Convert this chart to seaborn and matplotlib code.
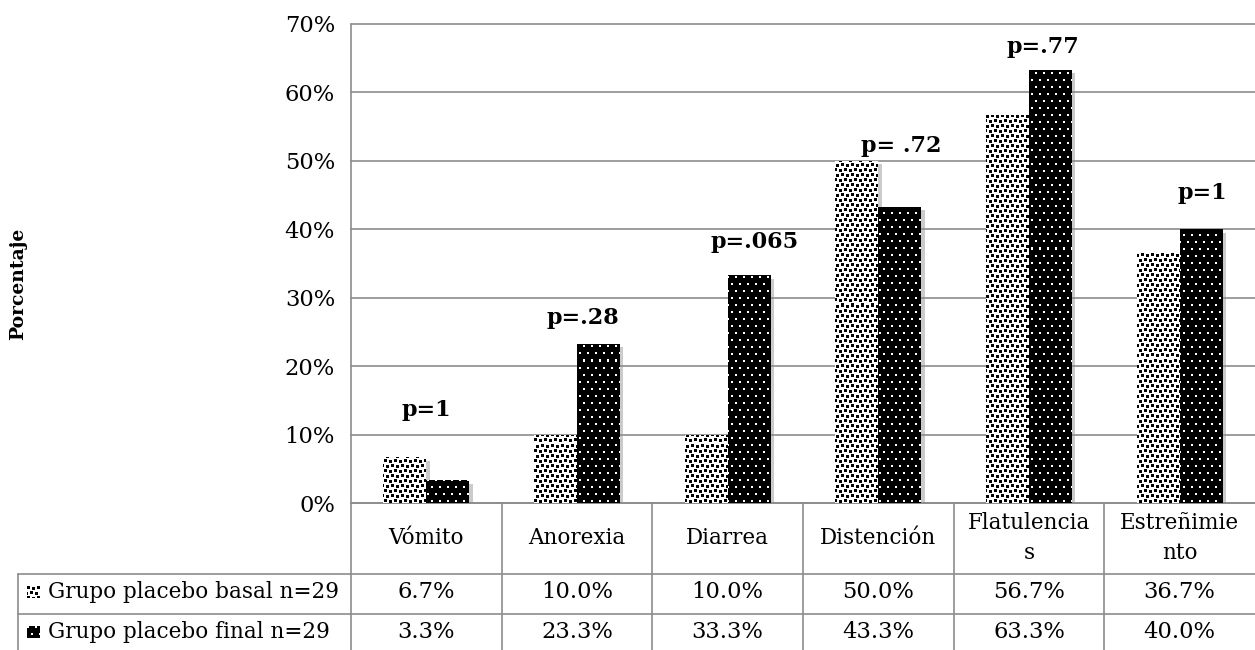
import numpy as np
import pandas as pd
import seaborn as sns
import matplotlib.pyplot as plt
from matplotlib import patheffects as pe
from matplotlib.lines import Line2D
from matplotlib.transforms import blended_transform_factory

# ---- data ----
sintomas = ["Vómito", "Anorexia", "Diarrea", "Distención", "Flatulencias", "Estreñimiento"]
etiquetas_tabla = ["Vómito", "Anorexia", "Diarrea", "Distención", "Flatulencia\ns", "Estreñimie\nnto"]
grupos = ["Grupo placebo basal n=29", "Grupo placebo final n=29"]
basal = [6.7, 10.0, 10.0, 50.0, 56.7, 36.7]
final = [3.3, 23.3, 33.3, 43.3, 63.3, 40.0]
p_valores = ["p=1", "p=.28", "p=.065", "p= .72", "p=.77", "p=1"]
y_ticks = [0, 10, 20, 30, 40, 50, 60, 70]

# ---- layout of the p-value annotations (category offset, height in %) ----
p_dx = [0.0, 0.04, 0.18, 0.15, 0.09, 0.15]
p_y = [13.6, 27.0, 38.1, 52.2, 66.6, 45.3]

sns.set_theme(style="white")
plt.rcParams["font.family"] = ["DejaVu Serif"]

FS = 15.5      # text in the table
FS_NUM = 16.3  # numbers (ticks and table values)
GRID = "#8c8c8c"
W_PX, H_PX = 1255, 650

fig = plt.figure(figsize=(W_PX / 100, H_PX / 100), dpi=100)
ax_left, ax_bottom, ax_w, ax_h = 351, 147, 904, 479
ax = fig.add_axes([ax_left / W_PX, ax_bottom / H_PX, ax_w / W_PX, ax_h / H_PX])

df = pd.DataFrame({
    "Síntoma": sintomas * 2,
    "Porcentaje": basal + final,
    "Grupo": [grupos[0]] * len(sintomas) + [grupos[1]] * len(sintomas),
})
sns.barplot(data=df, x="Síntoma", y="Porcentaje", hue="Grupo",
            palette=["white", "black"], width=0.57, saturation=1,
            linewidth=0, errorbar=None, legend=False, ax=ax, zorder=3)

ax.set_xlim(-0.5, 5.5)
ax.set_ylim(0, 70)


# ---- fill textures ----
def confetti(h, w):
    tile = np.ones((10, 10))
    for r, c in [(0, 0), (1, 5), (5, 3), (6, 8)]:
        for dr in range(3):
            for dc in range(3):
                tile[(r + dr) % 10, (c + dc) % 10] = 0
    return np.tile(tile, (h // 10 + 1, w // 10 + 1))[:h, :w]


def dotted(h, w):
    tile = np.zeros((14, 8))
    tile[0:2, 0:2] = 1
    tile[7:9, 4:6] = 1
    return np.tile(tile, (h // 14 + 1, w // 8 + 1))[:h, :w]


patterns = [confetti(ax_h, ax_w), dotted(ax_h, ax_w)]
for cont, pat in zip(ax.containers, patterns):
    for bar in cont:
        bar.set_path_effects([pe.SimplePatchShadow(offset=(2.5, -2.5), shadow_rgbFace="0.55", alpha=0.45),
                              pe.Normal()])
        im = ax.imshow(pat, cmap="gray", vmin=0, vmax=1, extent=(-0.5, 5.5, 0, 70),
                       aspect="auto", interpolation="nearest", zorder=3.5)
        im.set_clip_path(bar)

ax.set_xlim(-0.5, 5.5)
ax.set_ylim(0, 70)

# ---- axes styling ----
ax.yaxis.grid(True, color=GRID, lw=1.2)
for gl in ax.get_ygridlines():
    gl.set_clip_on(False)
ax.set_axisbelow(True)
for s in ["top", "right", "left"]:
    ax.spines[s].set_visible(False)
ax.spines["bottom"].set_color(GRID)
ax.spines["bottom"].set_linewidth(1.2)
ax.set_yticks(y_ticks, [f"{v}%" for v in y_ticks])
ax.tick_params(axis="y", length=0, pad=11.5, labelsize=FS_NUM, labelcolor="black")
ax.tick_params(axis="x", length=0, labelbottom=False)
ax.set_xlabel("")
ax.set_ylabel("")

# p-value annotations
for i, (txt, dx, yy) in enumerate(zip(p_valores, p_dx, p_y)):
    ax.text(i + dx, yy, txt, ha="center", va="center", fontsize=16, fontweight="bold", color="black")

# ---- data table under the plot ----
def ay(px):
    return (ax_h - (px - (H_PX - ax_h - ax_bottom))) / ax_h


def axx(px):
    return (px - ax_left) / ax_w


row1_top, row2_top, table_bottom = ay(574), ay(614), ay(654)
x_leg = axx(18)
line_kw = dict(color=GRID, lw=1.2, transform=ax.transAxes, clip_on=False)

ax.add_line(Line2D([0, 0], [1, table_bottom], **line_kw))
for k in range(1, len(sintomas)):
    xk = k / len(sintomas)
    ax.add_line(Line2D([xk, xk], [0, table_bottom], **line_kw))
for yy in (row1_top, row2_top, table_bottom):
    ax.add_line(Line2D([x_leg, 1], [yy, yy], **line_kw))
ax.add_line(Line2D([x_leg, x_leg], [row1_top, table_bottom], **line_kw))

bt = blended_transform_factory(ax.transData, ax.transAxes)
for i, lab in enumerate(etiquetas_tabla):
    ax.text(i, ay(538), lab, transform=bt, ha="center", va="center",
            fontsize=FS, linespacing=1.42, color="black")

row_centers = [ay(592), ay(632)]
for vals, yc in zip([basal, final], row_centers):
    for i, v in enumerate(vals):
        ax.text(i, yc, f"{v:.1f}%", transform=bt, ha="center", va="center", fontsize=FS_NUM, color="black")

for g, yc in zip(grupos, row_centers):
    ax.text(axx(48), yc, g, transform=ax.transAxes, ha="left", va="center", fontsize=FS, color="black")

# legend swatches in the row headers
for pat, yc_px in zip([confetti(12, 13), dotted(12, 13)], [592, 632]):
    sw = fig.add_axes([27 / W_PX, (H_PX - yc_px - 6) / H_PX, 13 / W_PX, 12 / H_PX])
    sw.imshow(pat, cmap="gray", vmin=0, vmax=1, aspect="auto", interpolation="nearest")
    sw.set_axis_off()

fig.text(18 / W_PX, 1 - 284 / H_PX, "Porcentaje", rotation=90, ha="center", va="center",
         fontsize=13.5, fontweight="bold", color="black")

fig.savefig("out.png", dpi=100, facecolor="white")
